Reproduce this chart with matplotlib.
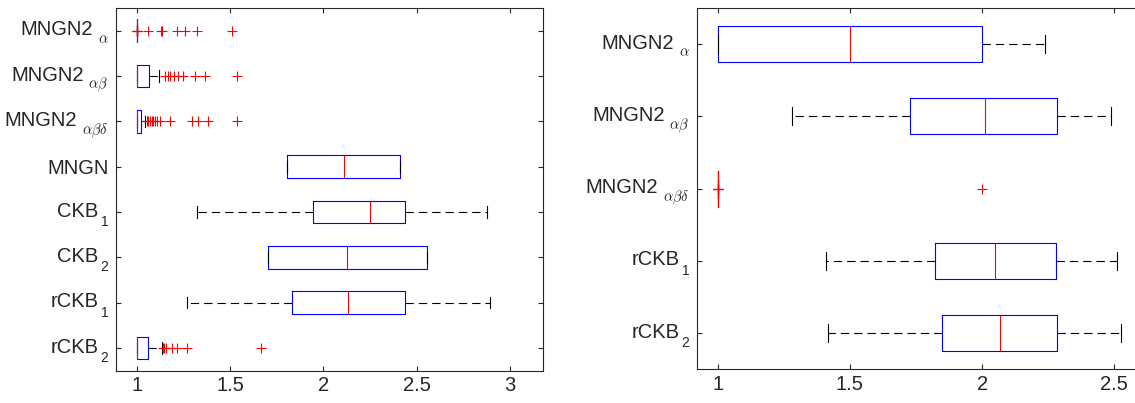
import matplotlib
matplotlib.use("Agg")
import matplotlib.pyplot as plt
from matplotlib.transforms import offset_copy

plt.rcParams["font.family"] = ["Liberation Sans", "DejaVu Sans"]
plt.rcParams["lines.scale_dashes"] = False

# left panel: all eight methods (name + subscript)
left_names = ["MNGN2", "MNGN2", "MNGN2", "MNGN", "CKB", "CKB", "rCKB", "rCKB"]
left_subs = [r"\alpha", r"\alpha\beta", r"\alpha\beta\delta", "", "1", "2", "1", "2"]
left_q1 = [1.0, 1.0, 1.0, 1.807, 1.946, 1.705, 1.831, 1.0]
left_med = [1.0, 1.0, 1.0, 2.109, 2.249, 2.129, 2.134, 1.0]
left_q3 = [1.0, 1.064, 1.023, 2.411, 2.440, 2.557, 2.436, 1.059]
left_lo = [1.0, 1.0, 1.0, 1.807, 1.323, 1.705, 1.268, 1.0]
left_hi = [1.0, 1.120, 1.045, 2.411, 2.877, 2.557, 2.895, 1.134]
left_fliers = [
    [1.0, 1.0, 1.0, 1.003, 1.062, 1.129, 1.135, 1.218, 1.259, 1.321, 1.509],
    [1.152, 1.165, 1.178, 1.200, 1.223, 1.250, 1.312, 1.366, 1.536],
    [1.054, 1.062, 1.071, 1.080, 1.089, 1.098, 1.107, 1.125, 1.178,
     1.295, 1.330, 1.384, 1.536],
    [], [], [], [],
    [1.139, 1.145, 1.157, 1.188, 1.214, 1.271, 1.665],
]

# right panel: five methods
right_names = ["MNGN2", "MNGN2", "MNGN2", "rCKB", "rCKB"]
right_subs = [r"\alpha", r"\alpha\beta", r"\alpha\beta\delta", "1", "2"]
right_q1 = [1.0, 1.727, 1.0, 1.822, 1.849]
right_med = [1.5, 2.010, 1.0, 2.049, 2.069]
right_q3 = [2.0, 2.282, 1.0, 2.280, 2.284]
right_lo = [1.0, 1.280, 1.0, 1.410, 1.418]
right_hi = [2.238, 2.487, 1.0, 2.509, 2.524]
right_fliers = [[], [], [1.0, 1.0, 1.0, 1.0, 2.0], [], []]

axcol = "#262626"
fsize = 14.5


def draw(ax, names, subs, q1, med, q3, lo, hi, fliers, xlim, xticks, xticklabels):
    stats = []
    for i in range(len(names)):
        stats.append(dict(q1=q1[i], med=med[i], q3=q3[i], whislo=lo[i], whishi=hi[i],
                          fliers=fliers[i]))
    pos = list(range(1, len(names) + 1))
    ax.bxp(stats, positions=pos, vert=False, widths=0.5, showfliers=True,
           boxprops=dict(color="blue", lw=0.8),
           medianprops=dict(color="red", lw=0.8),
           whiskerprops=dict(color="black", lw=0.8, linestyle=(0, (6, 3.6))),
           capprops=dict(color="black", lw=0.8),
           flierprops=dict(marker="+", markeredgecolor="red", markersize=6.5,
                           markeredgewidth=0.8, linestyle="none"))
    ax.set_ylim(len(names) + 0.5, 0.5)
    ax.set_xlim(*xlim)
    ax.set_yticks(pos, [""] * len(pos))
    ax.set_xticks(xticks, xticklabels)
    ax.tick_params(direction="in", length=3.6, width=0.8, colors=axcol,
                   labelsize=fsize, top=True, right=True, pad=4)
    for s in ax.spines.values():
        s.set_color(axcol)
        s.set_linewidth(0.8)

    # y labels with dropped subscripts, written as separate texts
    rend = fig.canvas.get_renderer()
    base = ax.get_yaxis_transform()
    pad = 8
    for y, name, sub in zip(pos, names, subs):
        if not sub:
            ax.text(0, y, name, ha="right", va="baseline", fontsize=fsize, color=axcol,
                    transform=offset_copy(base, fig=fig, x=-pad, y=-7.3, units="dots"))
            continue
        if sub.startswith("\\"):
            t = ax.text(0, y, "$" + sub + "$", ha="right", va="baseline", fontsize=10.5,
                        color=axcol, math_fontfamily="cm",
                        transform=offset_copy(base, fig=fig, x=-pad, y=-12.5, units="dots"))
            gap = 5
        else:
            t = ax.text(0, y, sub, ha="right", va="baseline", fontsize=10, color=axcol,
                        transform=offset_copy(base, fig=fig, x=-pad, y=-14, units="dots"))
            gap = 2
        w = t.get_window_extent(rend).width
        ax.text(0, y, name, ha="right", va="baseline", fontsize=fsize, color=axcol,
                transform=offset_copy(base, fig=fig, x=-pad - w - gap, y=-4.5, units="dots"))


fig = plt.figure(figsize=(11.35, 4.03), dpi=100)
ax1 = fig.add_axes([0.1025, 0.0801, 0.3762, 0.9])
ax2 = fig.add_axes([0.6144, 0.0836, 0.3907, 0.8965])

draw(ax1, left_names, left_subs, left_q1, left_med, left_q3, left_lo, left_hi, left_fliers,
     (0.89, 3.18), [1, 1.5, 2, 2.5, 3], ["1", "1.5", "2", "2.5", "3"])
draw(ax2, right_names, right_subs, right_q1, right_med, right_q3, right_lo, right_hi,
     right_fliers, (0.923, 2.6), [1, 1.5, 2, 2.5], ["1", "1.5", "2", "2.5"])

fig.savefig("out.png", dpi=100)
